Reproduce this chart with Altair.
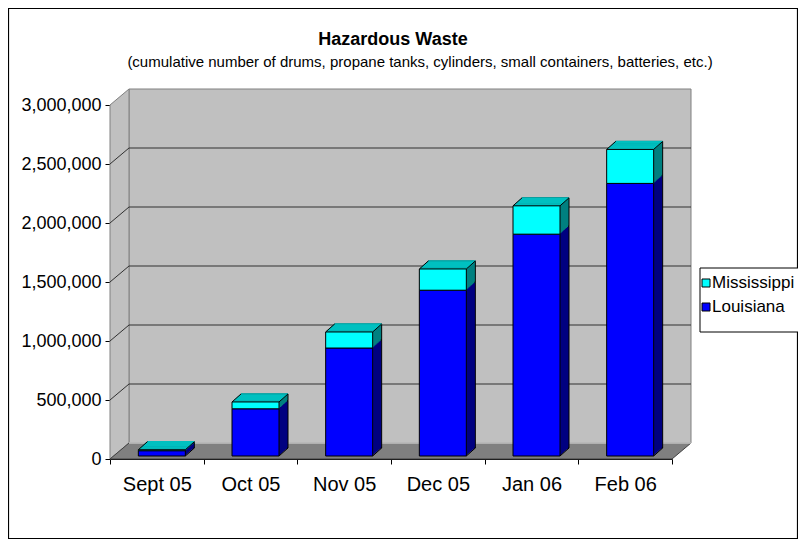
import altair as alt
import pandas as pd

# ---------------- data ----------------
months = ["Sept 05", "Oct 05", "Nov 05", "Dec 05", "Jan 06", "Feb 06"]
louisiana = [45000, 400000, 915000, 1405000, 1880000, 2310000]
mississippi = [8000, 58000, 136000, 180000, 240000, 288000]
series = ["Mississippi", "Louisiana"]
y_ticks = [0, 500000, 1000000, 1500000, 2000000, 2500000, 3000000]
title_text = "Hazardous Waste"
subtitle_text = "(cumulative number of drums, propane tanks, cylinders, small containers, batteries, etc.)"

# ---------------- style ----------------
FRONT = {"Louisiana": "#0000FF", "Mississippi": "#00FFFF"}
SIDE = {"Louisiana": "#000080", "Mississippi": "#008080"}
TOP = "#00C0C0"
WALL = "#C0C0C0"
FLOOR = "#808080"
FONT = "Liberation Sans"

W, H = 562, 354
DXW, DYW = 19, 16          # wall depth
BAR_W = 47
BXO, BYO = 5, -3           # front face offset
DX, DY = 9, 8              # bar depth

rows = []
for m, l, s in zip(months, louisiana, mississippi):
    rows.append(dict(month=m, series="Louisiana", y0=0, y1=l, side=SIDE["Louisiana"]))
    rows.append(dict(month=m, series="Mississippi", y0=l, y1=l + s, side=SIDE["Mississippi"]))
df = pd.DataFrame(rows)
tot = pd.DataFrame(dict(month=months, total=[l + s for l, s in zip(louisiana, mississippi)],
                        zero=[0] * len(months)))
one = pd.DataFrame({"a": [0]})

x_scale = alt.Scale(domain=months, paddingInner=0, paddingOuter=0)
y_scale = alt.Scale(domain=[0, 3000000], nice=False, zero=True)

x_axis = alt.Axis(tickBand="extent", labelFont=FONT, labelFontSize=20, labelColor="black",
                  labelPadding=10, tickSize=5, tickColor="black", domainColor="black",
                  labelAngle=0, grid=False, title=None)
y_axis = alt.Axis(values=y_ticks, format=",.0f", formatType="number", labelFont=FONT,
                  labelFontSize=18, labelColor="black", labelPadding=4, tickSize=5,
                  tickColor="black", domainColor="black", grid=False, title=None)


def X():
    return alt.X("month:N", scale=x_scale, sort=months, title=None, axis=x_axis)


def Y(field):
    return alt.Y(field, type="quantitative", scale=y_scale, title=None, axis=y_axis)


layers = []

# outer border
layers.append(alt.Chart(one).mark_rect(fillOpacity=0, stroke="black", strokeWidth=1.2).encode(
    x=alt.value(-101.5), x2=alt.value(687.5), y=alt.value(-96.5), y2=alt.value(433.5)))

# back wall
layers.append(alt.Chart(one).mark_rect(fill=WALL, stroke="#808080", strokeWidth=1).encode(
    x=alt.value(DXW), x2=alt.value(W + DXW), y=alt.value(-DYW), y2=alt.value(H - DYW)))

# side wall
side_wall = pd.DataFrame({"px": [0, DXW], "t": [0, -DYW], "b": [H, H - DYW]})
layers.append(alt.Chart(side_wall).mark_area(fill=WALL, stroke="#808080", strokeWidth=1).encode(
    x=alt.X("px:Q", scale=None, axis=None), y=alt.Y("t:Q", scale=None, axis=None), y2="b:Q"))

# floor
floor = pd.DataFrame({"px": [0, DXW, W, W + DXW], "t": [H, H - DYW, H - DYW, H - DYW],
                      "b": [H, H, H, H - DYW]})
layers.append(alt.Chart(floor).mark_area(fill=FLOOR, stroke="#404040", strokeWidth=1).encode(
    x=alt.X("px:Q", scale=None, axis=None), y=alt.Y("t:Q", scale=None, axis=None), y2="b:Q"))

grid = pd.DataFrame({"v": y_ticks[1:-1]})
layers.append(alt.Chart(grid).mark_rule(color="#303030", strokeWidth=1, yOffset=-DYW).encode(
    y=Y("v"), x=alt.value(DXW), x2=alt.value(W + DXW)))
layers.append(alt.Chart(grid).mark_rule(color="#303030", strokeWidth=1, y2Offset=-DYW).encode(
    y=Y("v"), y2="v:Q", x=alt.value(0), x2=alt.value(DXW)))
# floor back edge
layers.append(alt.Chart(pd.DataFrame({"v": [0]})).mark_rule(color="white", strokeWidth=1.2, yOffset=-DYW).encode(
    y=Y("v"), x=alt.value(DXW), x2=alt.value(W + DXW)))

# extrusion (side faces) back to front
for k in range(DX, 0, -1):
    yo = BYO - DY * k / DX
    kw = dict(width=BAR_W, xOffset=BXO + k, yOffset=yo, y2Offset=yo)
    if k == DX:
        kw.update(stroke="black", strokeWidth=1)
    layers.append(alt.Chart(df).mark_bar(**kw).encode(
        x=X(), y=Y("y1"), y2="y0:Q", fill=alt.Color("side:N", scale=None)))

# top faces
for k in range(1, DX + 1):
    layers.append(alt.Chart(tot).mark_tick(size=BAR_W, thickness=1.3, color=TOP, opacity=1,
                                           xOffset=BXO + k, yOffset=BYO - DY * k / DX).encode(
        x=X(), y=Y("total")))

# front faces
layers.append(alt.Chart(df).mark_bar(width=BAR_W, xOffset=BXO, yOffset=BYO, y2Offset=BYO,
                                     stroke="black", strokeWidth=1).encode(
    x=X(), y=Y("y1"), y2="y0:Q",
    fill=alt.Color("series:N", scale=alt.Scale(domain=series, range=[FRONT[s] for s in series]),
                   legend=None)))

# diagonal edges
for fld in ["total", "zero"]:
    for xo in ([BXO - BAR_W / 2, BXO + BAR_W / 2] if fld == "total" else [BXO + BAR_W / 2]):
        layers.append(alt.Chart(tot).mark_rule(color="black", strokeWidth=1,
                                               xOffset=xo, x2Offset=xo + DX,
                                               yOffset=BYO, y2Offset=BYO - DY).encode(
            x=X(), x2=alt.X2("month"), y=Y(fld), y2=alt.Y2(fld)))

# titles
layers.append(alt.Chart(one).mark_text(text=title_text, font=FONT, fontSize=18, fontWeight="bold",
                                       color="black").encode(x=alt.value(283), y=alt.value(-65)))
layers.append(alt.Chart(one).mark_text(text=subtitle_text, font=FONT, fontSize=15,
                                       color="black").encode(x=alt.value(310), y=alt.value(-43)))

# legend
layers.append(alt.Chart(one).mark_rect(fill="white", stroke="black", strokeWidth=1).encode(
    x=alt.value(590), x2=alt.value(693), y=alt.value(163), y2=alt.value(227)))
for i, s in enumerate(series):
    ly = 178 + 24 * i
    item = pd.DataFrame({"series": [s]})
    layers.append(alt.Chart(item).mark_square(size=64, stroke="black", strokeWidth=1, opacity=1,
                                              fill=FRONT[s]).encode(
        x=alt.value(596), y=alt.value(ly)))
    layers.append(alt.Chart(item).mark_text(font=FONT, fontSize=17, align="left", baseline="middle",
                                            color="black").encode(
        x=alt.value(602), y=alt.value(ly), text="series:N"))

chart = alt.layer(*layers).properties(
    width=W, height=H,
    autosize=alt.AutoSizeParams(type="none"),
    padding={"left": 102, "top": 97, "right": 126, "bottom": 80},
    background="white",
).resolve_scale(fill="independent").configure_view(stroke=None)

chart.save("out.html", embed_options={"renderer": "svg", "actions": False})
